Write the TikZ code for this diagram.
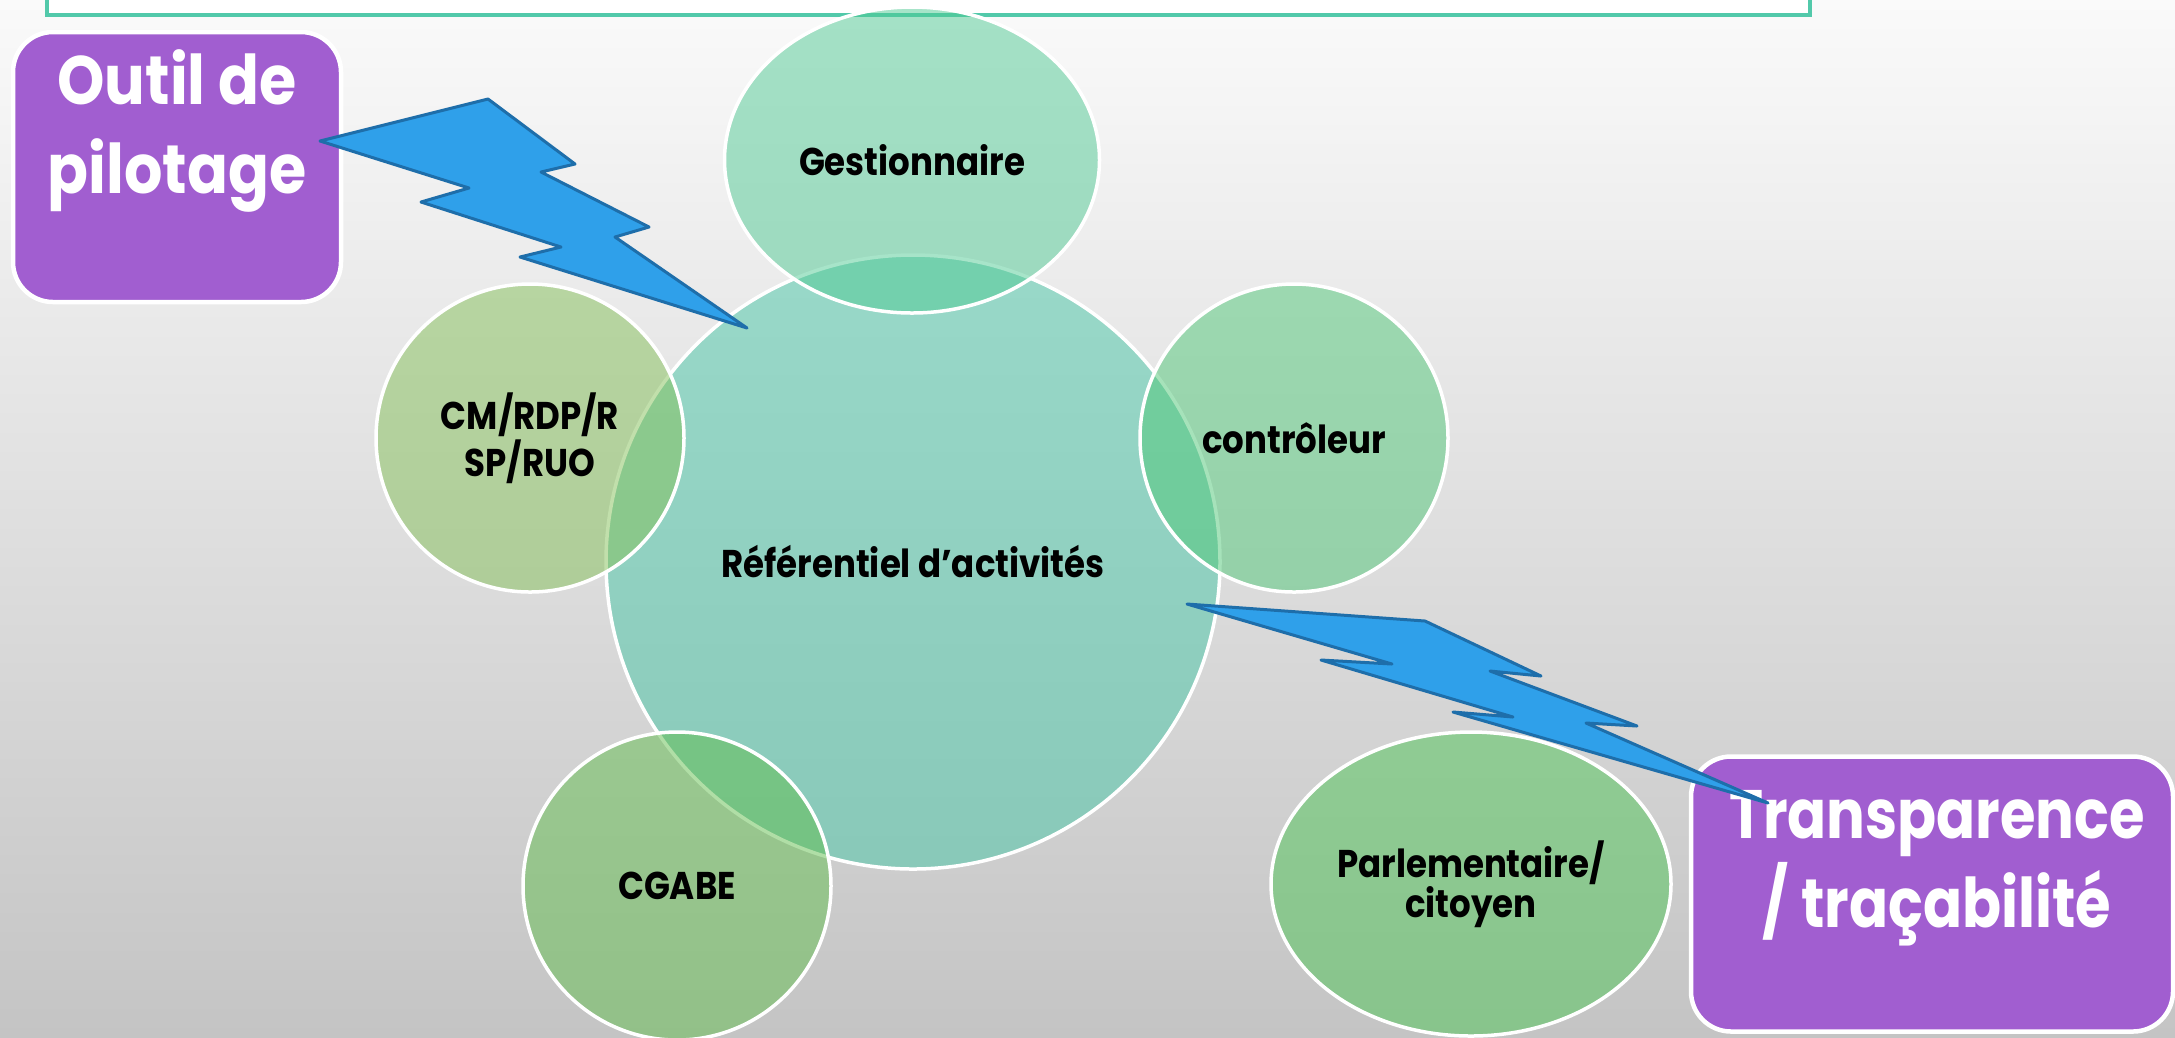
\documentclass[tikz,border=0pt]{standalone}
\usepackage{fontspec}
\setmainfont{Poppins}[FakeStretch=0.88]
\usepackage{tikz}
\usetikzlibrary{shapes.geometric}

\definecolor{bgtop}{RGB}{250,250,250}
\definecolor{bgmid}{RGB}{236,236,236}
\definecolor{bgbot}{RGB}{196,196,196}
\definecolor{frameteal}{RGB}{82,201,170}
\definecolor{refcol}{RGB}{70,198,166}
\definecolor{gestcol}{RGB}{80,202,148}
\definecolor{cmcol}{RGB}{132,192,88}
\definecolor{ctrlcol}{RGB}{79,199,119}
\definecolor{cgabecol}{RGB}{98,190,78}
\definecolor{parlcol}{RGB}{77,197,85}
\definecolor{panelpurple}{RGB}{161,94,208}
\definecolor{boltblue}{RGB}{47,160,234}
\definecolor{boltedge}{RGB}{30,110,170}

\begin{document}
\begin{tikzpicture}[x=0.1mm, y=-0.1mm,
	bubble/.style={circle, draw=white, line width=0.35mm, fill opacity=0.5, text opacity=1,
		inner sep=0pt, minimum size=30.8mm, align=center,
		font=\bfseries\fontsize{11}{11.4}\selectfont},
	oval/.style={bubble, ellipse},
	panel/.style={rectangle, rounded corners=4mm, draw=white, line width=0.45mm, fill=panelpurple},
	paneltext/.style={text=white, align=center, inner sep=0pt,
		font=\bfseries\fontsize{19.5}{25.3}\selectfont},
	bolt/.style={fill=boltblue, draw=boltedge, line width=0.3mm, line join=round}]
	\useasboundingbox (0,0) rectangle (2175,1037);
	\shade[top color=bgtop, middle color=bgmid, bottom color=bgbot] (0,0) rectangle (2175,1037);
	\draw[draw=frameteal, fill=white, line width=0.4mm] (47,-30) rectangle (1810,15);
%
	\node[bubble, fill=refcol, minimum size=61.4mm] (ref) at (913,562) {R\'ef\'erentiel d’activit\'es};
	\node[oval, fill=gestcol, minimum width=37.5mm, minimum height=30.6mm] (gest) at (912,160) {Gestionnaire};
	\node[bubble, fill=cmcol] (cm) at (530,438) {CM/RDP/R\\SP/RUO};
	\node[bubble, fill=ctrlcol] (ctrl) at (1294,438) {contr\^oleur};
	\node[bubble, fill=cgabecol] (cgabe) at (677,886) {CGABE};
	\node[oval, fill=parlcol, minimum width=40mm, minimum height=30.4mm] (parl) at (1471,884) {Parlementaire/\\citoyen};
%
	\node[panel, minimum width=32.8mm, minimum height=27mm] (pilot) at (177,167) {};
	\node[paneltext] (pilotlbl) at (177,131) {Outil de\\pilotage};
	\node[panel, minimum width=48.2mm, minimum height=27.5mm] (transp) at (1932,894) {};
	\node[paneltext, font=\bfseries\fontsize{19.5}{25.3}\selectfont\addfontfeature{FakeStretch=0.84}] (transplbl) at (1937,868) {Transparence\\/ tra\c{c}abilit\'e};
%
	\draw[bolt] (320,141) -- (488,99) -- (575,164) -- (541,172) -- (649,227) -- (615,237)
		-- (747,328) -- (520,257) -- (561,247) -- (421,202) -- (469,188) -- cycle;
	\draw[bolt] (1187,604) -- (1425,621) -- (1541,676) -- (1490,671) -- (1637,726) -- (1586,723)
		-- (1768,803) -- (1453,712) -- (1513,717) -- (1321,660) -- (1392,664) -- cycle;
\end{tikzpicture}
\end{document}
